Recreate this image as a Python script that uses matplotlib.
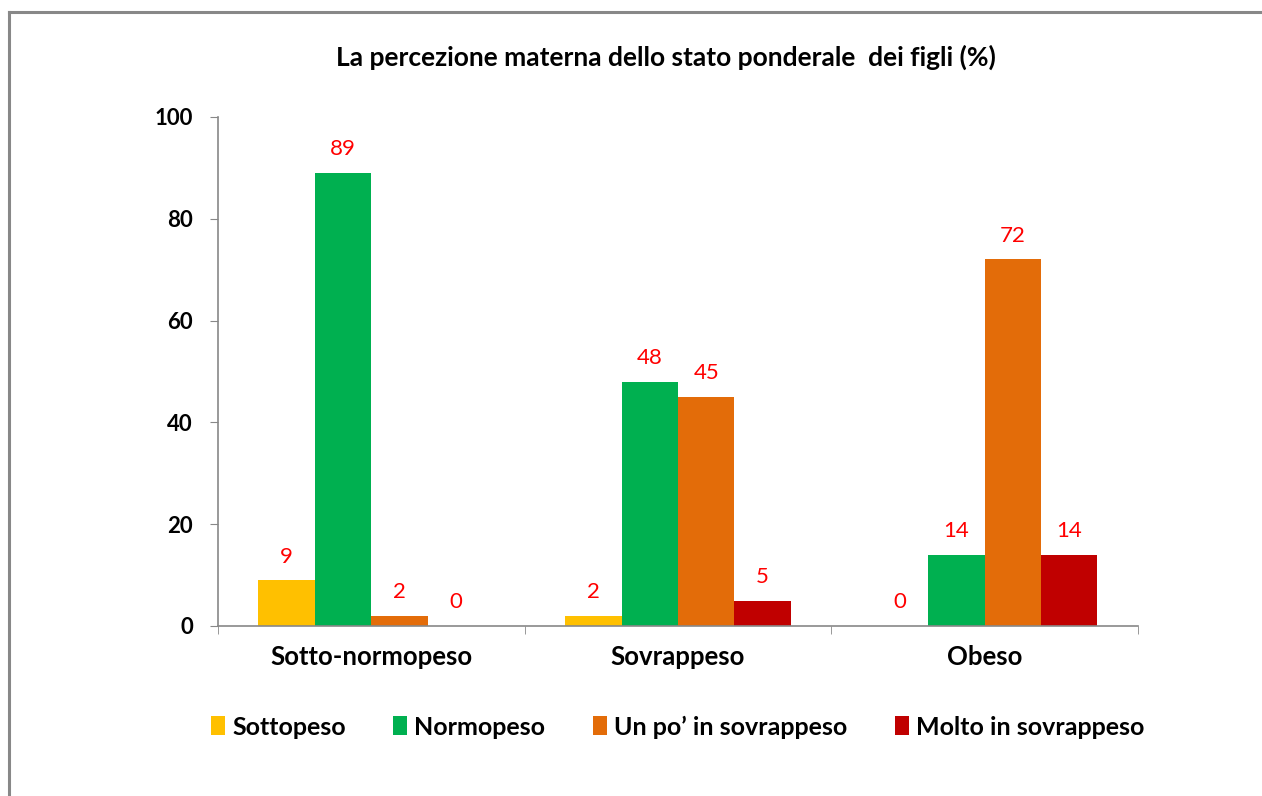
import matplotlib
matplotlib.use("Agg")
import matplotlib.pyplot as plt
from matplotlib.patches import Patch
from matplotlib.lines import Line2D
import numpy as np

# dati
categorie = ['Sotto-normopeso', 'Sovrappeso', 'Obeso']
serie = ['Sottopeso', 'Normopeso', "Un po\u2019 in sovrappeso", 'Molto in sovrappeso']
sottopeso = [9, 2, 0]
normopeso = [89, 48, 14]
poco_sovrappeso = [2, 45, 72]
molto_sovrappeso = [0, 5, 14]
valori = [sottopeso, normopeso, poco_sovrappeso, molto_sovrappeso]
colori = ['#FFC000', '#00B050', '#E36C09', '#C00000']

plt.rcParams['font.family'] = ['Lato', 'DejaVu Sans']

fig = plt.figure(figsize=(12.62, 7.96), dpi=100)
ax = fig.add_axes([0.1727, 0.2136, 0.729, 0.6395])

x = np.arange(len(categorie))
w = 0.184
for k, (vals, col) in enumerate(zip(valori, colori)):
    pos = x + (k - 1.5) * w
    ax.bar(pos, vals, width=w, color=col, label=serie[k])
    for p, v in zip(pos, vals):
        ax.annotate(str(v), xy=(p, v), xytext=(0, 17), textcoords='offset points',
                    ha='center', va='center', color='#FF0000', fontsize=16)

ax.set_xlim(-0.5, 2.5)
ax.set_ylim(0, 100)
ax.set_yticks([0, 20, 40, 60, 80, 100])
ax.set_xticks(x)
ax.set_xticklabels(categorie, fontsize=18.5, fontweight='bold')
ax.set_xticks([-0.5, 0.5, 1.5, 2.5], minor=True)
ax.tick_params(axis='x', which='major', length=0, pad=14)
ax.tick_params(axis='x', which='minor', length=6, color='#888888', direction='out')
ax.tick_params(axis='y', length=6, color='#888888', labelsize=16, pad=12)
for t in ax.get_yticklabels():
    t.set_fontweight('bold')
for s in ['top', 'right']:
    ax.spines[s].set_visible(False)
for s in ['left', 'bottom']:
    ax.spines[s].set_color('#888888')
    ax.spines[s].set_linewidth(1.2)

fig.text(0.528, 0.928, 'La percezione materna dello stato ponderale  dei figli (%)',
         ha='center', va='center', fontsize=19, fontweight='bold')

handles = [Patch(facecolor=c) for c in colori]
leg = fig.legend(handles, serie, loc='center', bbox_to_anchor=(0.537, 0.0867), ncol=4,
                 frameon=False, handlelength=0.55, handleheight=0.8, handletextpad=0.3,
                 columnspacing=1.9, prop={'size': 18, 'weight': 'bold'})

# cornice grigia (sinistra e sopra)
fig.add_artist(Line2D([9 / 1262, 9 / 1262], [0, 1 - 12 / 796], transform=fig.transFigure,
                      color='#888888', lw=2.2))
fig.add_artist(Line2D([9 / 1262, 1], [1 - 12 / 796, 1 - 12 / 796], transform=fig.transFigure,
                      color='#888888', lw=2.2))

fig.savefig('out.png', dpi=100)
